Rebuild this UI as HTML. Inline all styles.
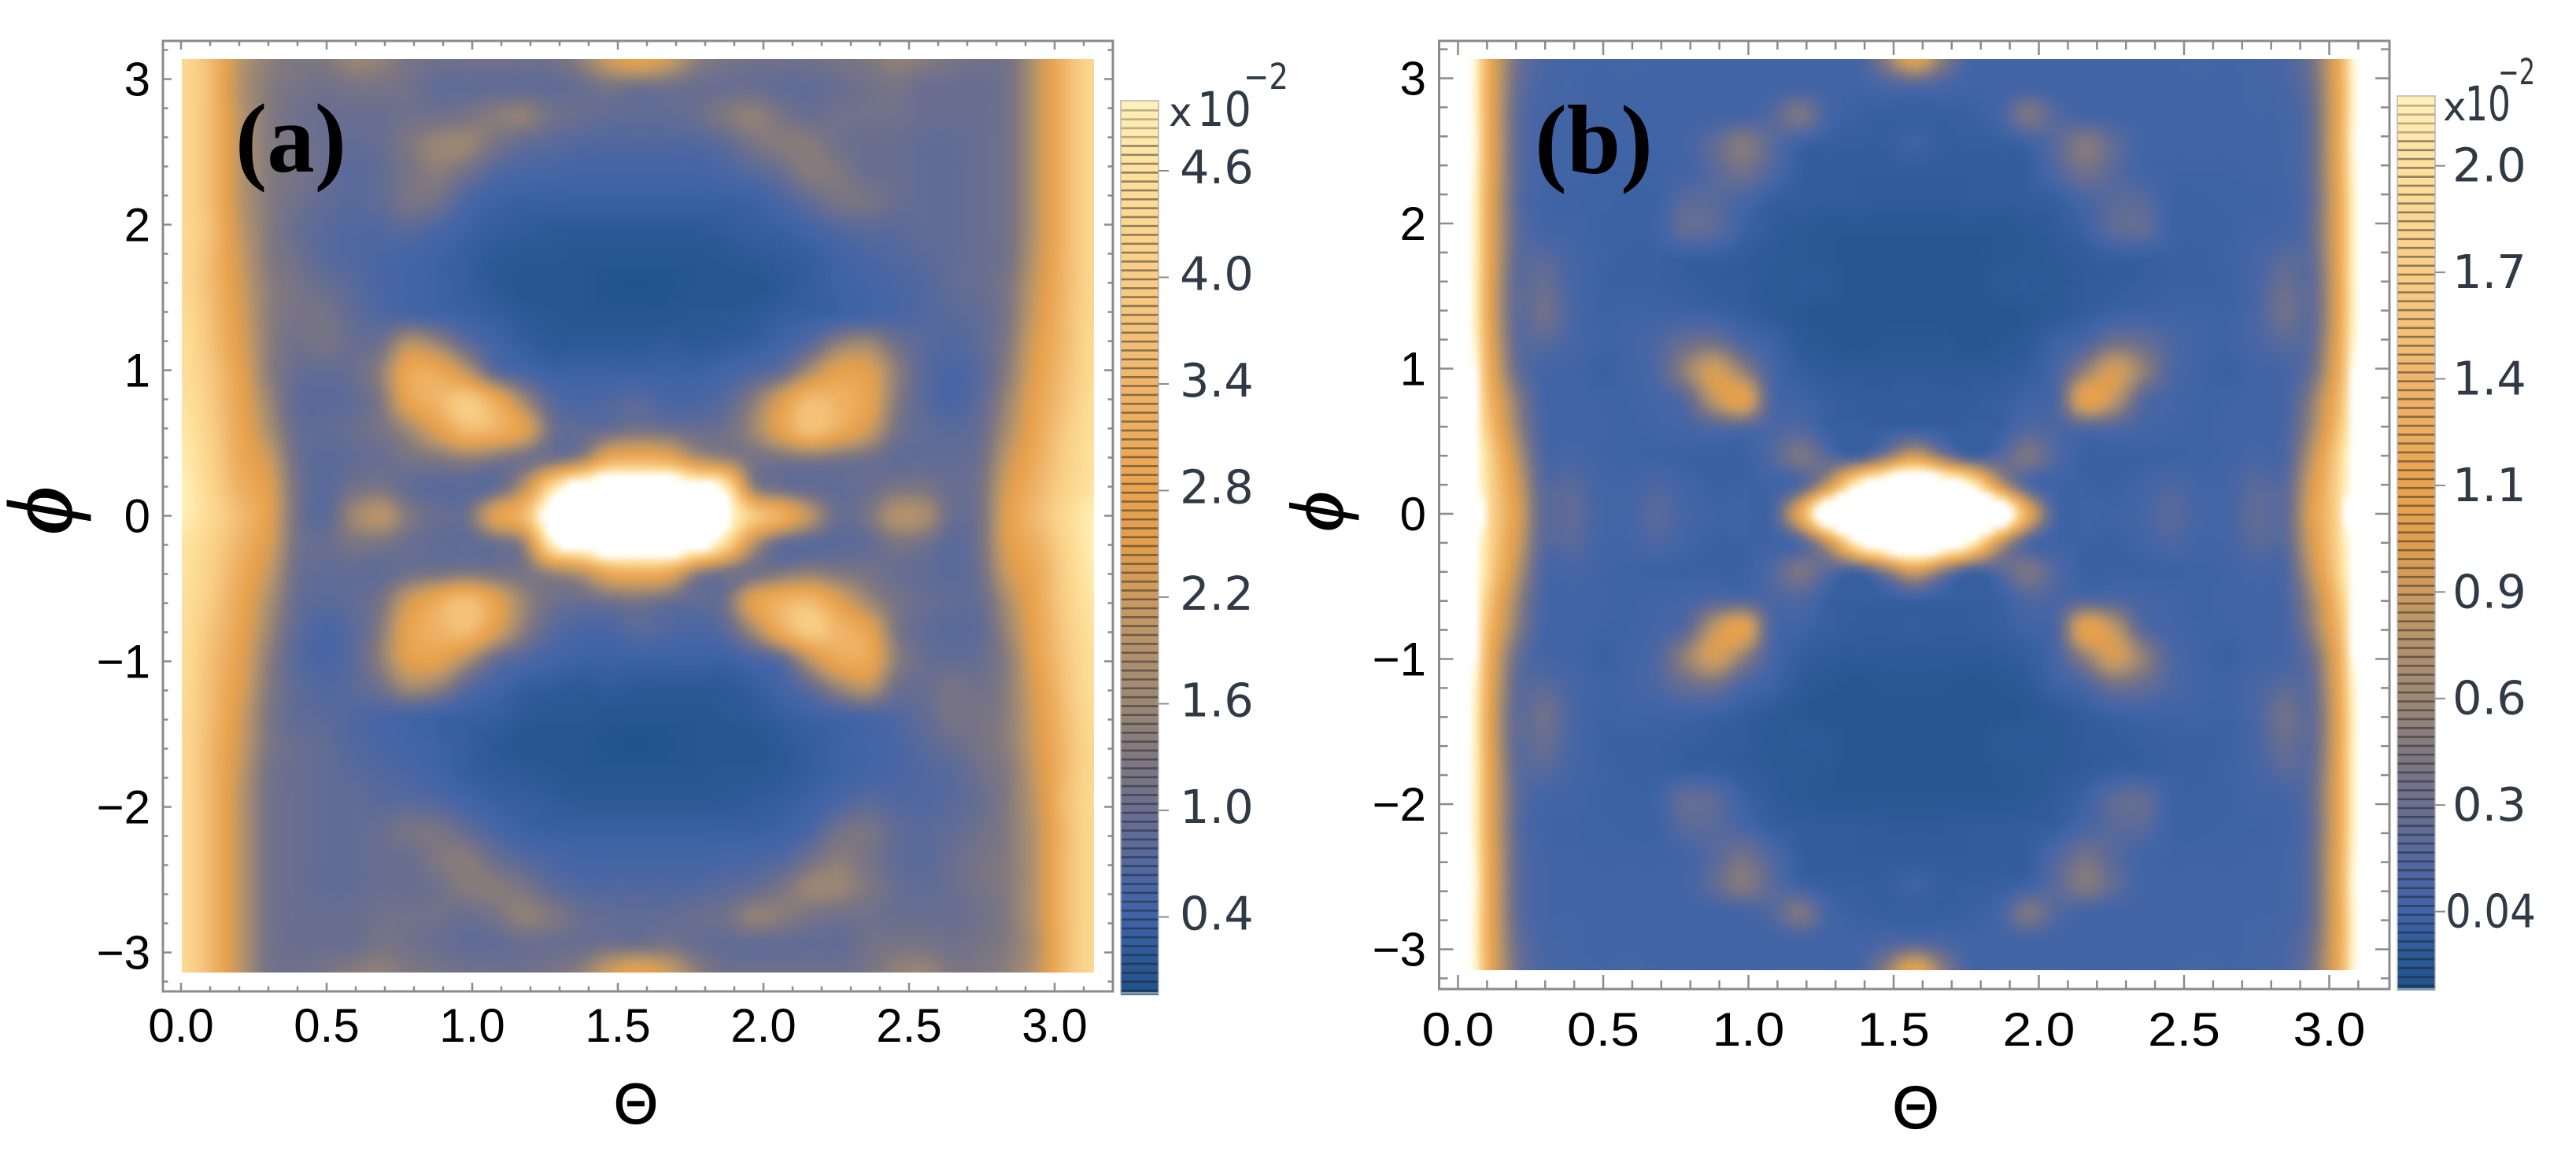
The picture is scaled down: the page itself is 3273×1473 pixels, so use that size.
<!DOCTYPE html>
<html lang="en">
<head>
<meta charset="utf-8">
<title>Theta-phi heatmaps</title>
<style>
html,body{margin:0;padding:0;background:#fff;width:3273px;height:1473px;overflow:hidden}
svg{display:block}
</style>
</head>
<body>
<svg id="chart" xmlns="http://www.w3.org/2000/svg" width="3273" height="1473" viewBox="0 0 3273 1473">
  <defs>
    <filter id="soften" filterUnits="userSpaceOnUse" x="0" y="0" width="3273" height="1473" color-interpolation-filters="sRGB"><feGaussianBlur stdDeviation="4"/></filter>
    <clipPath id="clip-a"><rect x="231" y="75" width="1159" height="1161"/></clipPath>
    <clipPath id="clip-b"><rect x="1853" y="75" width="1158" height="1158"/></clipPath>
  </defs>
  <rect width="3273" height="1473" fill="#fff"/>
  <g id="panel-a"></g>
  <g id="panel-b"></g>
  <text x="299" y="218" font-family="'Liberation Serif',serif" font-weight="bold" font-size="125" textLength="141" lengthAdjust="spacingAndGlyphs">(a)</text>
  <text x="1950" y="220" font-family="'Liberation Serif',serif" font-weight="bold" font-size="125" textLength="150" lengthAdjust="spacingAndGlyphs">(b)</text>
</svg>
<script>
// ---- chart data (values in units of 10^-2) ----
const xTickValues = [0, 0.5, 1, 1.5, 2, 2.5, 3];
const xTickLabels = ['0.0', '0.5', '1.0', '1.5', '2.0', '2.5', '3.0'];
const yTickValues = [3, 2, 1, 0, -1, -2, -3];
const yTickLabels = ['3', '2', '1', '0', '\u22121', '\u22122', '\u22123'];
const barATickValues = [4.6, 4.0, 3.4, 2.8, 2.2, 1.6, 1.0, 0.4];
const barATickLabels = ['4.6', '4.0', '3.4', '2.8', '2.2', '1.6', '1.0', '0.4'];
const barBTickValues = [2.0, 1.72, 1.44, 1.16, 0.88, 0.6, 0.32, 0.04];
const barBTickLabels = ['2.0', '1.7', '1.4', '1.1', '0.9', '0.6', '0.3', '0.04'];
const barADomain = [0, 5];
const barBDomain = [-0.17, 2.18];

// Panel (a): rows run from phi = pi down to phi = 0, columns from Theta = 0 to pi.
// The lower half of the panel is the point reflection of these rows.
const panelAValues = [
[4.4,3.6,2.1,1.5,1.3,1.3,1.6,1.5,1.2,1.1,1.1,1.1,1.1,1.1,1.5,2.3,2.8,2.3,1.5,1.2,1.1,1.1,1.1,1.2,1.3,1.5,1.4,1.2,1.1,1.2,2.1,3.5,4.4],
[4.4,3.6,2.0,1.4,1.2,1.1,1.2,1.2,1.1,0.9,0.9,0.9,0.9,0.9,1.0,1.2,1.1,1.1,1.0,1.0,1.0,0.9,0.9,1.0,1.1,1.2,1.0,1.0,1.0,1.2,2.1,3.5,4.4],
[4.4,3.6,2.1,1.4,1.1,1.0,1.0,1.0,1.1,1.1,1.2,1.4,1.5,1.1,1.0,0.9,0.9,0.9,1.0,1.3,1.5,1.2,1.0,1.1,1.1,1.1,1.0,1.0,1.0,1.2,2.1,3.5,4.4],
[4.4,3.6,2.1,1.4,1.2,1.0,0.9,1.0,1.3,1.6,1.6,1.2,0.9,0.8,0.7,0.7,0.7,0.7,0.7,0.85,1.2,1.4,1.4,1.1,1.0,1.0,0.9,0.9,1.0,1.2,2.1,3.5,4.4],
[4.4,3.6,2.1,1.4,1.2,1.0,0.8,0.9,1.2,1.4,1.1,0.7,0.6,0.55,0.5,0.5,0.5,0.5,0.5,0.6,0.75,1.0,1.4,1.3,1.0,1.0,0.9,0.9,1.0,1.2,2.1,3.5,4.4],
[4.4,3.6,2.1,1.4,1.1,0.9,0.8,0.9,1.2,1.1,0.6,0.4,0.35,0.35,0.35,0.35,0.35,0.35,0.35,0.35,0.4,0.6,0.9,1.2,1.2,1.0,0.9,0.9,1.0,1.2,2.1,3.5,4.4],
[4.4,3.7,2.2,1.4,1.0,0.8,0.7,0.7,0.8,0.6,0.4,0.3,0.25,0.2,0.2,0.2,0.2,0.2,0.2,0.25,0.3,0.35,0.5,0.7,0.8,0.8,0.9,0.9,1.0,1.2,2.1,3.5,4.4],
[4.4,3.6,2.3,1.4,1.1,0.8,0.7,0.6,0.5,0.4,0.3,0.2,0.15,0.15,0.1,0.1,0.1,0.1,0.1,0.15,0.2,0.25,0.3,0.45,0.6,0.7,0.8,0.9,1.0,1.2,2.2,3.5,4.4],
[4.4,3.6,2.4,1.5,1.2,1.0,0.8,0.6,0.5,0.4,0.3,0.2,0.1,0.1,0.1,0.05,0.03,0.05,0.1,0.1,0.1,0.2,0.3,0.4,0.5,0.6,0.7,0.9,1.0,1.3,2.3,3.5,4.4],
[4.5,3.7,2.5,1.5,1.2,1.2,0.9,0.7,0.6,0.5,0.4,0.3,0.2,0.15,0.1,0.1,0.1,0.1,0.15,0.15,0.2,0.3,0.35,0.4,0.5,0.6,0.7,0.8,0.9,1.3,2.4,3.6,4.4],
[4.6,3.8,2.6,1.5,1.1,1.2,1.0,1.1,2.0,1.6,0.9,0.5,0.3,0.2,0.2,0.2,0.2,0.25,0.2,0.25,0.3,0.5,0.8,1.5,1.7,1.1,0.8,0.7,0.9,1.4,2.6,3.6,4.5],
[4.6,3.9,2.8,1.5,1.0,0.9,1.0,1.5,3.0,3.0,2.1,0.9,0.6,0.4,0.4,0.4,0.4,0.4,0.4,0.5,0.7,1.0,1.9,2.7,2.6,1.5,0.8,0.6,0.8,1.5,2.7,3.7,4.5],
[4.7,4.0,2.9,1.7,0.9,0.8,0.9,1.3,2.8,3.4,4.0,3.1,1.7,0.8,0.6,0.7,0.8,0.6,0.6,0.8,1.4,2.5,3.6,3.3,2.8,1.4,0.8,0.6,0.9,1.7,2.9,3.8,4.6],
[4.8,4.1,3.0,1.9,1.0,0.9,1.0,1.2,1.7,2.6,3.5,3.3,2.6,1.1,0.9,1.0,1.2,1.1,1.0,1.1,1.6,2.7,3.7,3.1,2.3,1.2,0.9,0.8,1.0,1.9,3.0,4.0,4.6],
[4.9,4.2,3.1,2.3,1.1,0.8,0.9,1.0,1.2,1.3,1.5,1.3,1.1,1.1,1.6,3.0,3.2,3.0,2.0,1.6,1.2,1.2,1.3,1.2,1.1,0.9,0.9,0.9,1.1,2.2,3.2,4.1,4.7],
[5.0,4.3,3.3,2.6,1.2,0.8,1.1,1.2,0.9,0.8,0.8,0.9,2.0,4.5,6.0,6.5,6.5,6.5,5.8,5.0,1.6,1.0,0.9,0.9,1.0,1.2,1.2,1.0,1.2,2.5,3.4,4.2,4.7],
[5.0,4.4,3.6,2.7,1.2,0.8,1.6,2.0,1.3,1.0,1.1,2.6,3.5,6.0,6.5,6.5,6.5,6.5,6.5,5.6,4.0,3.2,2.0,1.0,1.2,1.9,1.8,1.0,1.2,2.7,3.6,4.4,5.0]
];

// Panel (b): upper-left quadrant, rows from phi = pi to 0, columns from Theta = 0 to pi/2.
// The other three quadrants mirror this one.
const panelBValues = [
[3.5,1.4,0.4,0.12,0.07,0.06,0.08,0.06,0.05,0.06,0.06,0.05,0.05,0.05,0.07,0.5,1.1],
[3.5,1.38,0.35,0.1,0.07,0.05,0.05,0.04,0.04,0.04,0.04,0.04,0.05,0.04,0.04,0.1,0.15],
[3.5,1.38,0.3,0.08,0.06,0.05,0.04,0.04,0.04,0.05,0.06,0.17,0.42,0.08,0.0,-0.02,-0.02],
[3.5,1.4,0.3,0.08,0.05,0.04,0.04,0.04,0.07,0.25,0.47,0.22,0.03,-0.02,-0.03,-0.03,0.02],
[3.5,1.38,0.3,0.07,0.04,0.03,0.03,0.03,0.06,0.2,0.35,0.15,-0.03,-0.04,-0.05,-0.05,-0.05],
[3.5,1.35,0.28,0.05,0.03,0.02,0.01,0.02,0.2,0.2,0.1,-0.02,-0.04,-0.05,-0.05,-0.06,-0.06],
[3.5,1.35,0.3,0.07,0.05,0.01,0.01,0.03,0.27,0.22,0.02,-0.05,-0.08,-0.1,-0.1,-0.1,-0.1],
[3.5,1.35,0.28,0.2,0.08,0.02,0.0,0.0,-0.02,-0.02,-0.05,-0.07,-0.09,-0.1,-0.12,-0.12,-0.12],
[3.5,1.33,0.25,0.3,0.1,0.01,0.0,0.0,-0.02,-0.04,-0.05,-0.08,-0.07,-0.08,-0.12,-0.12,-0.12],
[3.5,1.33,0.25,0.35,0.12,0.02,0.03,0.03,0.04,0.02,-0.03,-0.07,-0.1,-0.12,-0.12,-0.12,-0.12],
[3.5,1.38,0.28,0.2,0.1,0.03,0.05,0.14,0.3,0.35,0.12,0.02,-0.07,-0.1,-0.12,-0.1,-0.1],
[3.5,1.45,0.35,0.08,0.05,0.0,0.04,0.15,0.55,0.95,0.55,0.1,-0.03,-0.06,-0.07,-0.07,-0.07],
[3.5,1.6,0.55,0.08,0.05,0.03,0.03,0.08,0.2,0.8,1.1,0.15,0.04,-0.02,-0.04,-0.04,-0.03],
[3.5,1.75,0.65,0.1,0.05,0.04,0.02,0.05,0.08,0.15,0.15,0.12,0.15,0.0,-0.02,-0.02,0.0],
[3.5,1.95,0.85,0.13,0.1,0.04,0.02,0.01,0.0,0.0,0.0,0.15,0.42,0.2,0.08,0.5,1.0],
[3.5,2.0,1.0,0.2,0.2,0.07,0.06,0.13,0.05,0.0,0.01,0.03,0.15,0.9,2.3,3.0,3.5],
[4.0,2.05,1.1,0.22,0.25,0.08,0.08,0.2,0.08,0.03,0.04,0.08,1.2,3.0,3.5,3.5,3.5]
];

// ---- colour map (fraction of colour bar -> colour) ----
const colorPositions = [0, 0.04, 0.08, 0.12, 0.2, 0.26, 0.32, 0.4, 0.44, 0.5, 0.56, 0.68, 0.8, 0.92, 1, 1.03];
const colorHexes = ['#21528a','#2c5a95','#3d63a5','#4a66a4','#696e90','#7e7780','#9a8674','#b8946a','#ca9a5f','#e09e4e','#e9a34e','#efb56a','#f8cd85','#fee09b','#fff0ba','#ffffff'];

// ---- axis functions ----
function xScaleA(v){ return 230 + 370 * v; }
function yScaleA(v){ return 655.5 - 185 * v; }
function xScaleB(v){ return 1852.5 + 369 * v; }
function yScaleB(v){ return 653 - 184.5 * v; }
function barScaleA(v){ return 217 + (4.6 - v) * 225.8; }
function barScaleB(v){ return 210.7 + (2 - v) * 483.6; }

const SVG_NS = 'http://www.w3.org/2000/svg';
function make(parent, tag, attrs, text){
  const el = document.createElementNS(SVG_NS, tag);
  for (const k in attrs) el.setAttribute(k, attrs[k]);
  if (text !== undefined) el.textContent = text;
  parent.appendChild(el);
  return el;
}
function hexRgb(h){ return [parseInt(h.slice(1,3),16),parseInt(h.slice(3,5),16),parseInt(h.slice(5,7),16)]; }
const colorRgbs = colorHexes.map(hexRgb);
function colorAt(t){
  if (t <= colorPositions[0]) return 'rgb(' + colorRgbs[0].join(',') + ')';
  for (let k = 1; k < colorPositions.length; k++){
    if (t <= colorPositions[k]){
      const f = (t - colorPositions[k-1]) / (colorPositions[k] - colorPositions[k-1]);
      const a = colorRgbs[k-1], b = colorRgbs[k];
      return 'rgb(' + Math.round(a[0]+(b[0]-a[0])*f) + ',' + Math.round(a[1]+(b[1]-a[1])*f) + ',' + Math.round(a[2]+(b[2]-a[2])*f) + ')';
    }
  }
  return '#ffffff';
}
function lookupA(i, j){
  i = Math.max(0, Math.min(32, i)); j = Math.max(0, Math.min(32, j));
  return j <= 16 ? panelAValues[j][i] : panelAValues[32 - j][32 - i];
}
function lookupB(i, j){
  i = Math.max(0, Math.min(32, i)); j = Math.max(0, Math.min(32, j));
  return panelBValues[Math.min(j, 32 - j)][Math.min(i, 32 - i)];
}
function cubic(p0, p1, p2, p3, f){
  return 0.5 * (2*p1 + (p2-p0)*f + (2*p0-5*p1+4*p2-p3)*f*f + (3*p1-p0-3*p2+p3)*f*f*f);
}
function sample(lookup, gi, gj){
  const i = Math.floor(gi), j = Math.floor(gj), fi = gi - i, fj = gj - j;
  const col = [];
  for (let m = -1; m <= 2; m++){
    col.push(cubic(lookup(i-1,j+m), lookup(i,j+m), lookup(i+1,j+m), lookup(i+2,j+m), fi));
  }
  const v = cubic(col[0], col[1], col[2], col[3], fj);
  const c = [lookup(i,j), lookup(i+1,j), lookup(i,j+1), lookup(i+1,j+1)];
  return Math.max(Math.min.apply(null, c), Math.min(Math.max.apply(null, c), v));
}

function drawHeatmap(parent, clipId, lookup, xScale, yScale, domain){
  const clip = make(parent, 'g', {'clip-path': 'url(#' + clipId + ')'});
  
  
  const blur = make(clip, 'g', {filter: 'url(#soften)'});
  const sub = 4;
  const total = 32 * sub;
  for (let r = -2; r < total + 2; r++){
    for (let c = -2; c < total + 2; c++){
      const gi = (c + 0.5) / sub, gj = (r + 0.5) / sub;
      const v = sample(lookup, gi, gj);
      const x0 = xScale(c / sub * Math.PI / 32), x1 = xScale((c + 1) / sub * Math.PI / 32);
      const y0 = yScale(Math.PI - r / sub * Math.PI / 16), y1 = yScale(Math.PI - (r + 1) / sub * Math.PI / 16);
      const t = (v - domain[0]) / (domain[1] - domain[0]);
      const cell = make(blur, 'rect', {x: x0.toFixed(1), y: y0.toFixed(1), width: (x1 - x0 + 0.6).toFixed(1), height: (y1 - y0 + 0.6).toFixed(1), fill: colorAt(t)});
      
      
    }
  }
}

function drawFrame(parent, box, xScale, yScale, majorLen, minorLen, labelCfg){
  const axisColor = '#8b8b8b';
  const frame = make(parent, 'rect', {x: box.x0, y: box.y0, width: box.x1 - box.x0, height: box.y1 - box.y0, fill: 'none', stroke: axisColor, 'stroke-width': 3});
  
  
  const ticks = make(parent, 'g', {stroke: axisColor, 'stroke-width': 2.5});
  
  
  for (let k = 0; k <= 31; k++){
    const x = xScale(k / 10), len = k % 5 === 0 ? majorLen : minorLen;
    make(ticks, 'line', {x1: x, x2: x, y1: box.y1, y2: box.y1 - len});
    make(ticks, 'line', {x1: x, x2: x, y1: box.y0, y2: box.y0 + len});
  }
  for (let k = -16; k <= 16; k++){
    const y = yScale(k / 5), len = k % 5 === 0 ? majorLen : minorLen;
    make(ticks, 'line', {x1: box.x0, x2: box.x0 + len, y1: y, y2: y});
    make(ticks, 'line', {x1: box.x1, x2: box.x1 - len, y1: y, y2: y});
  }
  xTickValues.forEach(function(v, n){
    const attrs = {x: xScale(v), y: labelCfg.xBase, 'text-anchor': 'middle', 'font-family': "'Liberation Sans',sans-serif", 'font-size': labelCfg.size, fill: '#000'};
    if (labelCfg.xWidth){ attrs.textLength = labelCfg.xWidth; attrs.lengthAdjust = 'spacingAndGlyphs'; }
    const t = make(parent, 'text', attrs, xTickLabels[n]);
    
    
  });
  yTickValues.forEach(function(v, n){
    const t = make(parent, 'text', {x: labelCfg.yRight, y: yScale(v) + 21, 'text-anchor': 'end', 'font-family': "'Liberation Sans',sans-serif", 'font-size': labelCfg.size, fill: '#000'}, yTickLabels[n]);
    
    
  });
}

function drawColorBar(parent, cfg){
  const bar = make(parent, 'g', {});
  
  
  const w = cfg.x1 - cfg.x0;
  for (let y = cfg.top; y < cfg.bottom; y += 4){
    const t = (cfg.bottom - y - 2) / (cfg.bottom - cfg.top);
    const band = make(bar, 'rect', {x: cfg.x0, y: y, width: w, height: 4.5, fill: colorAt(t)});
    
    
  }
  for (let k = 0; k < 100; k++){
    const y = cfg.top + 11 + k * 11.3;
    if (y >= cfg.bottom) break;
    const line = make(bar, 'rect', {x: cfg.x0, y: y, width: w, height: 2.6, fill: '#1c1c24', opacity: k < 4 ? 0.3 : 0.48});
    
    
  }
  make(bar, 'rect', {x: cfg.x0, y: cfg.top, width: w, height: cfg.bottom - cfg.top, fill: 'none', stroke: '#b5b5b5', 'stroke-width': 1.5});
  cfg.values.forEach(function(v, n){
    const y = cfg.scale(v);
    const tick = make(bar, 'line', {x1: cfg.x1, x2: cfg.x1 + 13, y1: y, y2: y, stroke: '#8b8b8b', 'stroke-width': 2});
    
    
    const attrs = {x: cfg.labelX, y: y + cfg.labelDy, 'font-family': "'DejaVu Sans',sans-serif", 'font-size': 59, fill: '#2f3a46'};
    if (cfg.labels[n].length > 3){ attrs.x = cfg.labelX - 9; attrs.textLength = 115; attrs.lengthAdjust = 'spacingAndGlyphs'; }
    const label = make(bar, 'text', attrs, cfg.labels[n]);
    
    
  });
}

function scaleText(parent, cfg){
  const times = make(parent, 'text', {x: cfg.xTimes, y: cfg.base, 'font-family': "'DejaVu Sans',sans-serif", 'font-size': 50, fill: '#2f3a46'}, 'x');
  
  
  const ten = make(parent, 'text', {x: cfg.xTen, y: cfg.base, 'font-family': "'DejaVu Sans',sans-serif", 'font-size': 61, fill: '#2f3a46', textLength: cfg.tenWidth, lengthAdjust: 'spacingAndGlyphs'}, '10');
  
  
  const exp = make(parent, 'text', {x: cfg.xExp, y: cfg.expBase, 'font-family': "'DejaVu Sans',sans-serif", 'font-size': 45, fill: '#2f3a46', textLength: cfg.expWidth, lengthAdjust: 'spacingAndGlyphs'}, '\u22122');
  
  
}

function axisTitles(parent, cfg){
  const theta = make(parent, 'text', {x: cfg.thetaX, y: cfg.thetaY, 'text-anchor': 'middle', 'font-family': "'Liberation Sans',sans-serif", 'font-size': cfg.thetaSize, fill: '#000', stroke: '#000', 'stroke-width': 1.2}, '\u0398');
  
  
  const phi = make(parent, 'text', {x: cfg.phiX, y: cfg.phiY, 'text-anchor': 'middle', transform: 'rotate(-90 ' + cfg.phiX + ' ' + cfg.phiY + ')', 'font-family': "'Liberation Serif',serif", 'font-style': 'italic', 'font-size': cfg.phiSize, fill: '#000', stroke: '#000', 'stroke-width': 2}, '\u03D5');
  
  
}

const gA = document.getElementById('panel-a');
const gB = document.getElementById('panel-b');

drawHeatmap(gA, 'clip-a', lookupA, xScaleA, yScaleA, barADomain);
drawFrame(gA, {x0: 207, x1: 1414, y0: 52, y1: 1260}, xScaleA, yScaleA, 11, 6.5, {size: 60, xBase: 1324, yRight: 191});
drawColorBar(gA, {x0: 1424, x1: 1472, top: 128, bottom: 1262, values: barATickValues, labels: barATickLabels, scale: barScaleA, labelX: 1499, labelDy: 16});
scaleText(gA, {xTimes: 1485, xTen: 1521, tenWidth: 69, base: 160, xExp: 1580, expBase: 113, expWidth: 57});
axisTitles(gA, {thetaX: 808, thetaY: 1428, thetaSize: 72, phiX: 90, phiY: 649, phiSize: 115});

drawHeatmap(gB, 'clip-b', lookupB, xScaleB, yScaleB, barBDomain);
drawFrame(gB, {x0: 1828.5, x1: 3036, y0: 52, y1: 1257}, xScaleB, yScaleB, 18, 11, {size: 60, xBase: 1329, yRight: 1812, xWidth: 92});
drawColorBar(gB, {x0: 3046, x1: 3094, top: 122, bottom: 1257, values: barBTickValues, labels: barBTickLabels, scale: barScaleB, labelX: 3116, labelDy: 20});
scaleText(gB, {xTimes: 3104, xTen: 3132, tenWidth: 58, base: 153, xExp: 3174, expBase: 107, expWidth: 47});
axisTitles(gB, {thetaX: 2434, thetaY: 1434, thetaSize: 76, phiX: 1705, phiY: 650, phiSize: 95});
</script>
</body>
</html>
